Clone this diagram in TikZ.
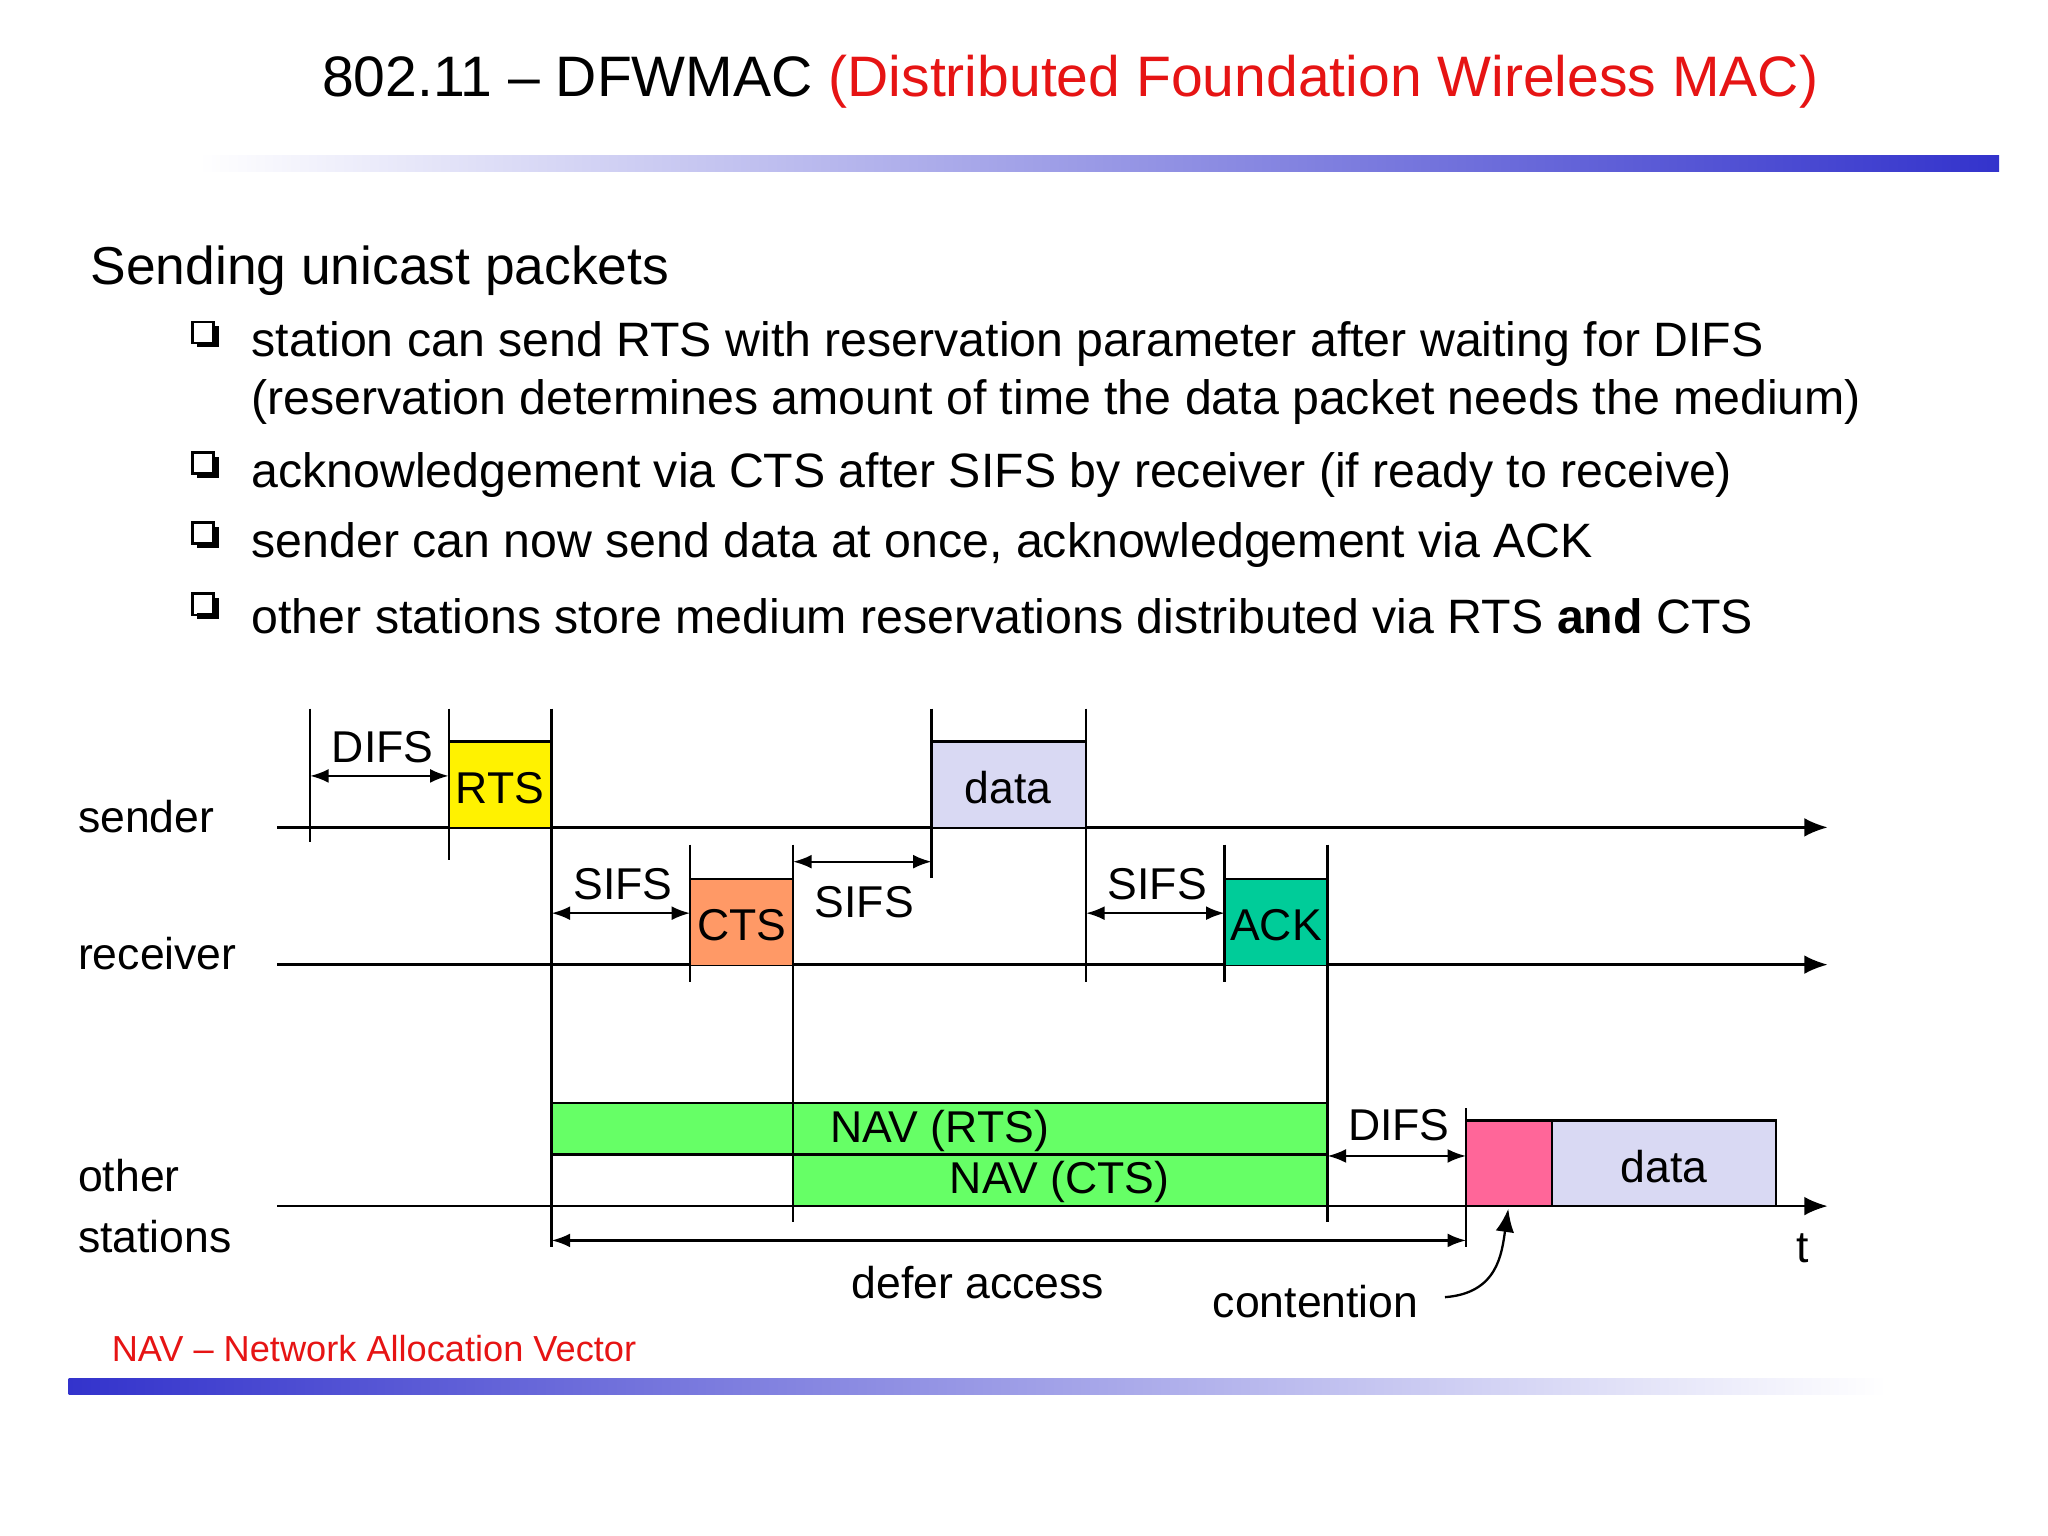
\documentclass[tikz,border=0pt]{standalone}
\usepackage{fontspec}
\setmainfont{Liberation Sans}
\usetikzlibrary{arrows.meta}
\definecolor{barblue}{RGB}{51,51,204}
\definecolor{rtsy}{RGB}{255,242,0}
\definecolor{ctso}{RGB}{255,153,102}
\definecolor{ackg}{RGB}{0,204,153}
\definecolor{navg}{RGB}{102,255,102}
\definecolor{datal}{RGB}{217,217,243}
\definecolor{pinkc}{RGB}{255,102,153}
\definecolor{redt}{RGB}{230,20,20}
\begin{document}
\begin{tikzpicture}[x=0.01cm,y=-0.01cm,
  lbl/.style={font=\fontsize{9.6}{11}\selectfont,inner sep=1pt},
  bul/.style={font=\fontsize{10.4}{12}\selectfont,anchor=west,inner sep=0},
  tick/.style={line width=0.5pt},
  dim/.style={line width=0.5pt,{Latex[length=4pt,width=3pt]}-{Latex[length=4pt,width=3pt]}},
  axis/.style={line width=0.5pt,-{Latex[length=5pt,width=4pt]}}]
\useasboundingbox (0,0) rectangle (1552,1164);
\fill[white] (0,0) rectangle (1552,1164);
% title
\node[font=\fontsize{12.3}{14}\selectfont] (title) at (811,62) {802.11 – DFWMAC \textcolor{redt}{(Distributed Foundation Wireless MAC)}};
\shade[left color=white,right color=barblue] (150,118) rectangle (1515,130);
\shade[left color=barblue,right color=white] (52,1045) rectangle (1430,1057);
% text
\node[bul,font=\fontsize{11.5}{13}\selectfont] (head) at (68,205) {Sending unicast packets};
\foreach \y/\t in {261/{station can send RTS with reservation parameter after waiting for DIFS},
  360/{acknowledgement via CTS after SIFS by receiver (if ready to receive)},
  413/{sender can now send data at once, acknowledgement via ACK},
  467/{other stations store medium reservations distributed via RTS \textbf{and} CTS}}{
  \node[bul] at (190,\y) {\t};
  \draw[line width=0.6pt,fill=white] (146,\y-17) rectangle (162,\y-1);
  \draw[line width=1.2pt] (149,\y) -- (164,\y) -- (164,\y-14);
}
\node[bul] (b1b) at (190,305) {(reservation determines amount of time the data packet needs the medium)};
% row labels
\node[lbl,anchor=west] (snd) at (55,619) {sender};
\node[lbl,anchor=west] (rcv) at (55,723) {receiver};
\node[lbl,anchor=west,align=left] (oth) at (55,914) {other\\[2pt]stations};
% axes
\coordinate (s0) at (210,627); \coordinate (s1) at (1385,627);
\coordinate (r0) at (210,731); \coordinate (r1) at (1385,731);
\coordinate (o0) at (210,914); \coordinate (o1) at (1385,914);
\draw[axis] (s0) -- (s1);
\draw[axis] (r0) -- (r1);
\draw[axis] (o0) -- (o1);
\node[lbl] (t) at (1366,946) {t};
% boxes
\fill[rtsy] (340,562) rectangle (418,627); \draw[line width=0.5pt] (340,562) -- (418,562);
\node[lbl] (rts) at (379,597) {RTS};
\fill[ctso] (523,666) rectangle (601,731); \draw[line width=0.5pt] (523,666) -- (601,666);
\node[lbl] (cts) at (562,701) {CTS};
\fill[datal] (706,562) rectangle (823,627); \draw[line width=0.5pt] (706,562) -- (823,562);
\node[lbl] (data1) at (764,597) {data};
\fill[ackg] (928,666) rectangle (1006,731); \draw[line width=0.5pt] (928,666) -- (1006,666);
\node[lbl] (ack) at (967,701) {ACK};
\draw[line width=0.5pt,fill=navg] (418,836) rectangle (1006,875);
\node[lbl] (navr) at (712,857) {NAV (RTS)};
\draw[line width=0.5pt,fill=navg] (601,875) rectangle (1006,914);
\node[lbl] (navc) at (803,896) {NAV (CTS)};
\draw[line width=0.5pt,fill=pinkc] (1111,849) rectangle (1176,914);
\draw[line width=0.5pt,fill=datal] (1176,849) rectangle (1346,914);
\node[lbl] (data2) at (1261,884) {data};
% ticks
\draw[tick] (235,537) -- (235,638);
\draw[tick] (340,537) -- (340,652);
\draw[tick] (418,537) -- (418,945);
\draw[tick] (523,640) -- (523,744);
\draw[tick] (601,640) -- (601,926);
\draw[tick] (706,537) -- (706,665);
\draw[tick] (823,537) -- (823,744);
\draw[tick] (928,640) -- (928,744);
\draw[tick] (1006,640) -- (1006,926);
\draw[tick] (1111,840) -- (1111,945);
% dimension arrows
\draw[dim] (235,588) -- (340,588); \node[lbl] at (290,566) {DIFS};
\draw[dim] (418,692) -- (523,692); \node[lbl] at (472,670) {SIFS};
\draw[dim] (601,653) -- (706,653); \node[lbl] at (655,684) {SIFS};
\draw[dim] (823,692) -- (928,692); \node[lbl] at (877,670) {SIFS};
\draw[dim] (1006,876) -- (1111,876); \node[lbl] at (1060,853) {DIFS};
\draw[dim] (418,940) -- (1111,940);
\node[lbl] (defer) at (741,972) {defer access};
\node[lbl] (cont) at (997,986) {contention};
\coordinate (pk) at (1143,916);
\draw[line width=0.5pt,-{Latex[length=5pt,width=4pt]}] (1095,983) .. controls (1135,980) and (1138,950) .. (pk);
\node[font=\fontsize{7.8}{9}\selectfont,text=redt,anchor=west,inner sep=0] (nav) at (84,1022) {NAV – Network Allocation Vector};
\end{tikzpicture}
\end{document}
